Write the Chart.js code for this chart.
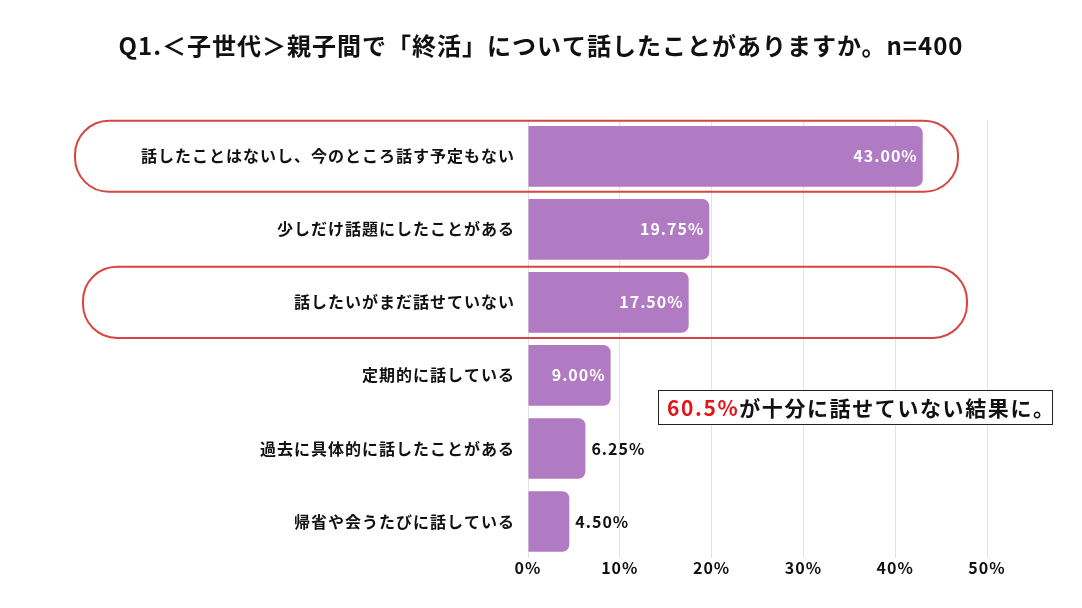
<!DOCTYPE html>
<html lang="ja">
<head>
<meta charset="utf-8">
<script src="https://cdn.jsdelivr.net/npm/chart.js@4.4.1/dist/chart.umd.min.js"></script>
<style>
  html, body { margin: 0; padding: 0; background: #fff; overflow: hidden; }
  #wrap { position: relative; width: 1082px; height: 608px; }
  #myChart { display: block; }
  #note {
    position: absolute; left: 658px; top: 390px; width: 393px; height: 33px;
    border: 1px solid #222; background: #fff;
    font-family: "Noto Sans CJK JP", sans-serif; font-weight: 700; font-size: 21px;
    letter-spacing: 1.6px; line-height: 33px; text-indent: 8px; color: #111; white-space: nowrap;
  }
  #note .red { color: #e3141c; }
</style>
</head>
<body>
<div id="wrap">
  <canvas id="myChart" width="1082" height="608"></canvas>
  <div id="note"><span class="red">60.5%</span>が十分に話せていない結果に。</div>
</div>
<script>
/** データ */
const categories = [
  "話したことはないし、今のところ話す予定もない",
  "少しだけ話題にしたことがある",
  "話したいがまだ話せていない",
  "定期的に話している",
  "過去に具体的に話したことがある",
  "帰省や会うたびに話している"
];
const values = [43.00, 19.75, 17.50, 9.00, 6.25, 4.50];
const xTicks = [0, 10, 20, 30, 40, 50];
const highlighted = [0, 2];

const FONT = '"Noto Sans CJK JP", "Noto Sans", sans-serif';

const canvas = document.getElementById("myChart");
const ctx = canvas.getContext("2d");
ctx.canvas.width = 1082;
ctx.canvas.height = 608;

// 字間を少し広げる
const spacing = {
  id: "spacing",
  beforeDraw(chart) {
    chart.ctx.letterSpacing = "1px";
  }
};

// 値ラベル（バーの中は白、短いバーは外側に黒）
const valueLabels = {
  id: "valueLabels",
  afterDatasetsDraw(chart) {
    const c = chart.ctx;
    const meta = chart.getDatasetMeta(0);
    c.save();
    c.font = "bold 16px " + FONT;
    c.letterSpacing = "1px";
    c.textBaseline = "middle";
    meta.data.forEach((bar, i) => {
      const txt = values[i].toFixed(2) + "%";
      const w = c.measureText(txt).width;
      if (bar.x - bar.base > w + 14) {
        c.fillStyle = "#ffffff";
        c.textAlign = "right";
        c.fillText(txt, bar.x - 5, bar.y);
      } else {
        c.fillStyle = "#111111";
        c.textAlign = "left";
        c.fillText(txt, bar.x + 6, bar.y);
      }
    });
    c.restore();
  }
};

// 赤い枠
const highlightBoxes = {
  id: "highlightBoxes",
  afterDraw(chart) {
    const c = chart.ctx;
    const y = chart.scales.y;
    const step = y.getPixelForValue(1) - y.getPixelForValue(0);
    c.save();
    c.strokeStyle = "#d64541";
    c.lineWidth = 2;
    highlighted.forEach((idx, k) => {
      const cy = y.getPixelForValue(idx);
      const left = 75 + k * 8;
      const right = 958 + k * 9;
      const top = cy - step / 2 + 1;
      const h = step - 2;
      c.beginPath();
      c.roundRect(left, top, right - left, h, 34);
      c.stroke();
    });
    c.restore();
  }
};

let chart1 = new Chart(ctx, {
  type: "bar",
  data: {
    labels: categories,
    datasets: [
      {
        data: values,
        backgroundColor: "#b07bc2",
        borderRadius: 7,
        borderSkipped: "start",
        categoryPercentage: 1,
        barPercentage: 0.83
      }
    ]
  },
  options: {
    indexAxis: "y",
    responsive: false,
    animation: false,
    devicePixelRatio: 1,
    layout: { padding: { left: 95, right: 95, top: 0, bottom: 20 } },
    plugins: {
      legend: { display: false },
      tooltip: { enabled: false },
      title: {
        display: true,
        text: "Q1.＜子世代＞親子間で「終活」について話したことがありますか。n=400",
        color: "#111",
        font: { family: FONT, size: 24, weight: "bold" },
        padding: { top: 31, bottom: 60 }
      }
    },
    scales: {
      x: {
        min: 0,
        max: 50,
        afterBuildTicks(scale) {
          scale.ticks = xTicks.map(v => ({ value: v }));
        },
        afterFit(scale) { scale.height = 30; },
        grid: { color: "#e2e2e2", drawTicks: false },
        border: { display: false },
        ticks: {
          padding: 0,
          color: "#111",
          font: { family: FONT, size: 16, weight: "bold" },
          callback: v => v + "%"
        }
      },
      y: {
        afterFit(scale) { scale.width = 433; },
        grid: { display: false, drawTicks: false },
        border: { display: false },
        ticks: {
          padding: 13,
          color: "#111",
          font: { family: FONT, size: 16, weight: "bold" }
        }
      }
    }
  },
  plugins: [spacing, valueLabels, highlightBoxes]
});
</script>
</body>
</html>
